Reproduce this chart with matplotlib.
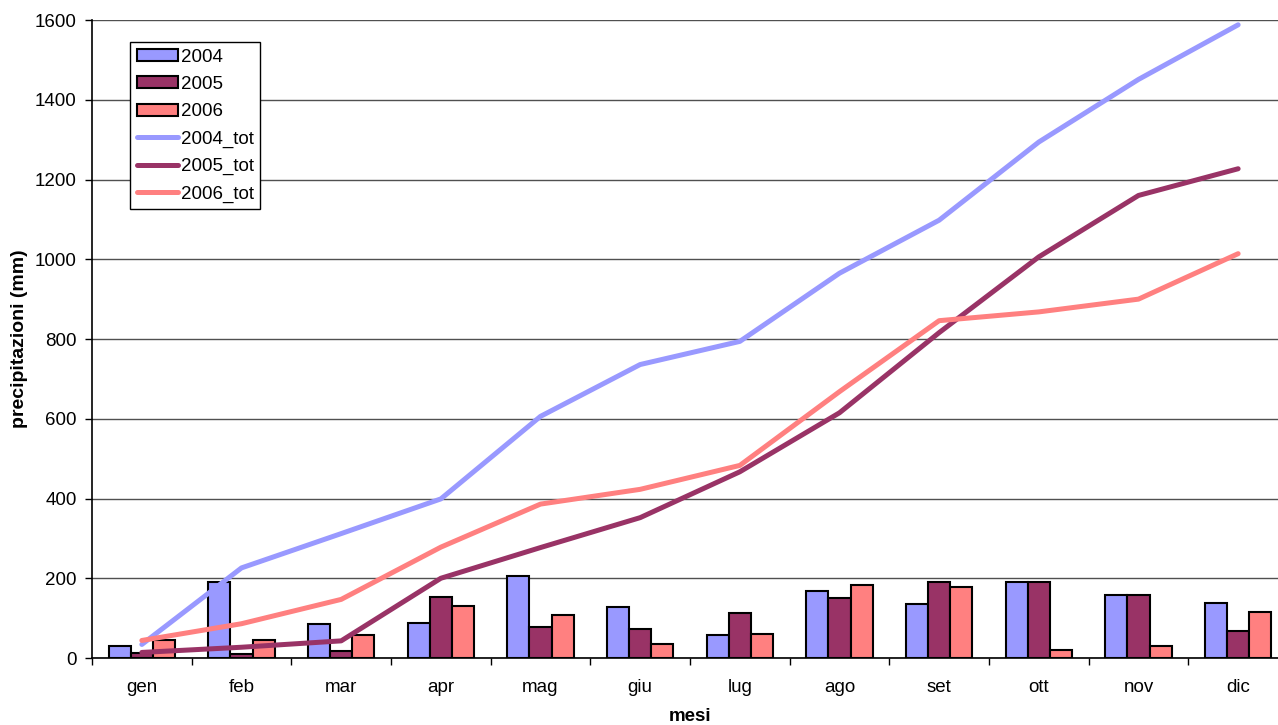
import numpy as np
import matplotlib.pyplot as plt
from matplotlib.ticker import FixedLocator, NullFormatter

plt.rcParams['font.family'] = ['Liberation Sans', 'DejaVu Sans']

# Monthly rainfall (mm) and running totals
mesi = ['gen', 'feb', 'mar', 'apr', 'mag', 'giu', 'lug', 'ago', 'set', 'ott', 'nov', 'dic']
rain_2004 = [31, 191, 85, 87, 206, 129, 57, 168, 135, 191, 158, 138]
rain_2005 = [12, 9, 17, 153, 78, 73, 114, 151, 191, 191, 158, 67]
rain_2006 = [44, 44, 58, 130, 107, 36, 59, 184, 178, 20, 30, 115]
tot_2004 = [34, 226, 312, 399, 606, 736, 794, 965, 1098, 1294, 1451, 1588]
tot_2005 = [14, 27, 43, 200, 277, 352, 467, 615, 816, 1006, 1160, 1227]
tot_2006 = [44, 86, 147, 278, 386, 423, 483, 668, 846, 868, 900, 1014]
yticks = [0, 200, 400, 600, 800, 1000, 1200, 1400, 1600]

color_2004 = '#9999FF'
color_2005 = '#993366'
color_2006 = '#FF8080'
fs = 13.5

fig = plt.figure(figsize=(12.78, 7.25), dpi=100)
ax = fig.add_axes([0.072, 0.0924, 0.9358, 0.88])

x = np.arange(len(mesi))
w = 0.222
bar_kw = dict(width=w, edgecolor='black', linewidth=1.5, zorder=3)
b1 = ax.bar(x - w, rain_2004, color=color_2004, label='2004', **bar_kw)
b2 = ax.bar(x, rain_2005, color=color_2005, label='2005', **bar_kw)
b3 = ax.bar(x + w, rain_2006, color=color_2006, label='2006', **bar_kw)

line_kw = dict(linewidth=3.6, solid_capstyle='round', zorder=4)
l1, = ax.plot(x, tot_2004, color=color_2004, label='2004_tot', **line_kw)
l2, = ax.plot(x, tot_2005, color=color_2005, label='2005_tot', **line_kw)
l3, = ax.plot(x, tot_2006, color=color_2006, label='2006_tot', **line_kw)

ax.set_xlim(-0.5, len(mesi) - 0.5)
ax.set_ylim(0, 1600)
ax.set_yticks(yticks)
ax.set_yticklabels([str(v) for v in yticks])

# category labels centred, tick marks between categories
ax.set_xticks(x)
ax.set_xticklabels(mesi)
ax.xaxis.set_minor_locator(FixedLocator(np.arange(-0.5, len(mesi), 1.0)))
ax.xaxis.set_minor_formatter(NullFormatter())
ax.tick_params(axis='x', which='major', length=0, pad=15, labelsize=fs)
ax.tick_params(axis='x', which='minor', length=5, width=1, direction='out')
ax.tick_params(axis='y', length=5, width=1, direction='out', pad=6, labelsize=fs)

ax.yaxis.grid(True, color='#505050', linewidth=1, zorder=0)
ax.set_axisbelow(True)
for side in ['top', 'right']:
    ax.spines[side].set_visible(False)
ax.spines['left'].set_linewidth(1.2)
ax.spines['bottom'].set_linewidth(1.2)

ax.set_xlabel('mesi', fontsize=fs, fontweight='bold', labelpad=9)
ax.set_ylabel('precipitazioni (mm)', fontsize=14, fontweight='bold', labelpad=5)

leg = ax.legend(handles=[b1, b2, b3, l1, l2, l3],
                loc='upper left', bbox_to_anchor=(0.0318, 0.9655), borderaxespad=0,
                fontsize=fs, fancybox=False, framealpha=1, edgecolor='black',
                handlelength=2.2, handleheight=0.6, handletextpad=0.15,
                labelspacing=0.55, borderpad=0.35)
leg.get_frame().set_linewidth(1)

fig.savefig('out.png', dpi=100)
